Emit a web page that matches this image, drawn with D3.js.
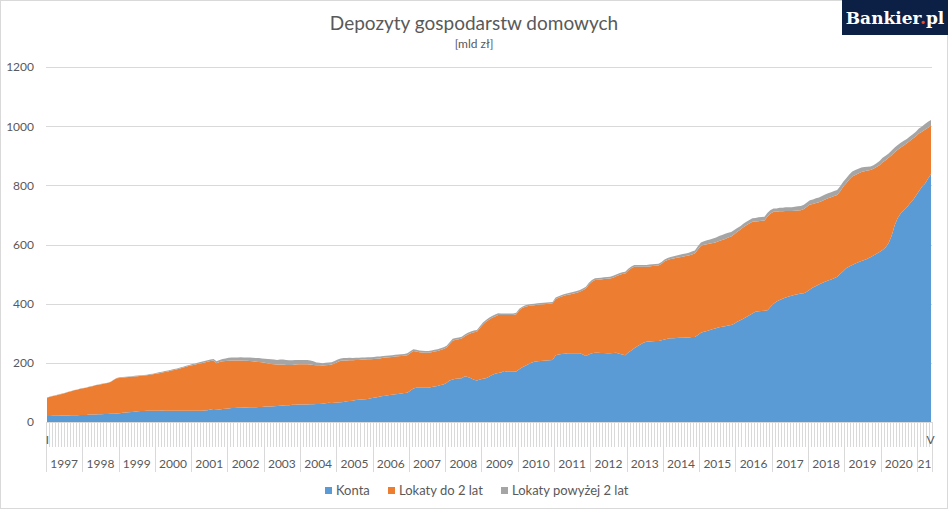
<!DOCTYPE html>
<html>
<head>
<meta charset="utf-8">
<script src="https://cdn.jsdelivr.net/npm/d3@7/dist/d3.min.js"></script>
<style>
  body { margin: 0; background: #fff; }
  text { font-family: Lato, "Open Sans", sans-serif; fill: #595959; }
</style>
</head>
<body>
<div id="chart"></div>
<script>
// years on the category axis, month labels shown only at both ends
var years = [1997,1998,1999,2000,2001,2002,2003,2004,2005,2006,2007,2008,
             2009,2010,2011,2012,2013,2014,2015,2016,2017,2018,2019,2020,2021];
var yearLabels = ["1997","1998","1999","2000","2001","2002","2003","2004","2005","2006","2007","2008",
                  "2009","2010","2011","2012","2013","2014","2015","2016","2017","2018","2019","2020","21"];
var romanMonths = ["I","II","III","IV","V","VI","VII","VIII","IX","X","XI","XII"];
var lastYearMonths = 5;
var yTicks = [0,200,400,600,800,1000,1200];

var seriesNames = ["Konta", "Lokaty do 2 lat", "Lokaty powyżej 2 lat"];
var colors = ["#5b9bd5", "#ed7d31", "#a5a5a5"];

// mld zł, monthly, one row per year
var konta = [
  20,20,21,21,21,22,22,22,23,23,23,24,
  24,24,25,25,25,26,26,27,27,28,28,29,
  30,31,32,33,34,35,36,37,37,38,38,38,
  38,38,39,38,38,38,38,38,38,38,38,38,
  38,38,38,38,39,40,42,44,43,42,44,45,
  46,47,47,48,48,49,49,50,50,50,51,51,
  52,52,52,53,54,55,56,57,57,58,58,59,
  59,59,59,60,60,61,61,62,63,65,64,65,
  66,67,68,70,71,72,74,75,76,77,78,80,
  82,84,86,88,89,91,92,94,95,96,98,99,
  106,113,116,116,116,116,116,118,120,122,125,127,
  133,140,144,146,147,148,155,152,148,143,140,144,
  146,148,153,159,163,166,167,172,170,170,170,171,
  178,185,190,195,200,204,205,206,207,208,209,210,
  226,228,230,231,232,232,232,232,232,228,223,228,
  232,234,234,233,233,232,232,233,234,231,228,226,
  235,242,249,256,262,268,271,272,273,274,274,276,
  279,281,283,283,284,285,285,286,286,287,287,294,
  302,305,308,311,314,317,320,322,324,326,328,332,
  339,344,349,355,361,367,373,374,375,376,378,390,
  400,407,412,417,421,424,427,430,432,434,435,440,
  448,455,460,465,470,474,478,482,486,491,500,510,
  520,526,531,536,540,544,548,552,557,563,569,575,
  581,590,605,630,665,690,705,715,725,739,750,765,
  780,795,805,822,838
];

var lokatyDo2 = [
  62,65,67,69,72,73,76,79,81,84,86,88,
  90,92,94,96,99,100,102,103,105,107,114,119,
  119,119,119,119,119,119,119,119,120,120,122,123,
  125,127,128,131,133,136,138,140,143,146,149,152,
  154,156,159,161,162,164,164,164,156,161,161,161,
  161,161,161,160,160,158,158,156,155,154,152,151,
  148,146,144,142,140,139,138,136,136,135,136,136,
  136,136,136,134,133,131,131,129,129,128,130,133,
  137,140,140,138,138,137,136,135,135,134,134,132,
  131,130,129,129,129,128,128,127,127,127,126,127,
  127,127,122,120,119,118,118,118,118,118,118,120,
  119,124,131,132,133,134,135,144,152,160,165,174,
  184,191,193,193,194,196,195,190,192,192,192,193,
  200,200,200,197,194,191,191,191,191,191,191,191,
  190,192,194,197,198,200,202,205,208,217,228,237,
  242,246,247,249,250,252,253,255,259,266,272,276,
  277,278,276,269,263,257,254,254,254,254,255,259,
  264,267,268,270,271,272,274,275,277,279,283,289,
  294,294,293,292,291,291,292,293,295,298,299,303,
  304,306,309,310,310,310,305,305,305,305,317,315,
  311,304,300,295,292,289,286,284,283,282,285,288,
  287,282,280,278,277,278,278,278,278,276,280,285,
  287,294,299,299,300,301,300,298,295,293,293,293,
  297,295,288,272,247,230,223,220,217,211,208,200,
  195,186,183,173,163
];

var lokatyPow2 = [
  1,1,1,1,1,1,1,1,1,1,1,1,
  1,1,1,1,1,1,1,1,1,1,1,1,
  2,2,2,2,2,2,2,2,2,2,2,2,
  3,3,3,3,3,3,3,3,3,3,3,3,
  4,4,4,5,5,5,5,5,6,7,8,9,
  10,10,10,10,11,11,11,12,12,12,13,13,
  14,15,16,16,16,17,17,17,16,16,16,15,
  15,15,15,14,12,9,8,8,8,8,8,8,
  8,8,8,8,8,7,7,7,7,7,7,7,
  7,7,6,6,6,6,6,6,6,6,6,6,
  6,6,6,6,6,6,6,6,6,6,6,6,
  6,6,6,6,6,6,6,6,6,6,6,6,
  6,6,6,6,6,6,5,5,5,5,5,5,
  5,5,5,5,5,5,5,5,5,5,5,5,
  5,5,5,5,5,6,6,6,6,6,6,6,
  6,6,6,6,6,6,6,6,6,6,6,6,
  6,6,6,6,6,6,6,6,6,6,6,6,
  6,6,7,7,8,8,9,9,9,10,10,11,
  11,12,13,14,15,16,17,17,17,16,15,14,
  13,12,12,12,12,12,12,13,13,13,12,12,
  11,11,12,12,13,13,13,14,14,14,14,14,
  15,15,16,16,17,17,17,17,17,17,17,17,
  17,17,17,17,16,15,14,13,12,12,13,14,
  15,15,15,16,16,16,16,16,15,15,15,16,
  17,18,19,20,20
];

var W = 948, H = 509;
var plot = {left: 46, right: 932, top: 67, bottom: 422};

// month categories
var months = [];
years.forEach(function(yr, i) {
  var n = (i == years.length - 1) ? lastYearMonths : 12;
  for (var m = 0; m < n; m++) months.push({key: yr + "-" + (m + 1), year: yr, yi: i, m: m});
});
var rows = months.map(function(d, i) {
  return {key: d.key, konta: konta[i], do2: lokatyDo2[i], pow2: lokatyPow2[i]};
});

var svg = d3.select("#chart").append("svg")
  .attr("width", W).attr("height", H);

svg.append("rect")
  .attr("x", 0.5).attr("y", 0.5).attr("width", W - 1).attr("height", H - 1)
  .attr("fill", "#fff").attr("stroke", "#d9d9d9");

var xBand = d3.scaleBand()
  .domain(months.map(function(d) { return d.key; }))
  .range([plot.left, plot.right]);
var xPt = d3.scalePoint()
  .domain(months.map(function(d) { return d.key; }))
  .range([plot.left + 1, plot.right - 1]);
var y = d3.scaleLinear().domain([0, 1200]).range([plot.bottom, plot.top]);

// gridlines + y labels
svg.append("g").selectAll("line").data(yTicks).enter().append("line")
  .attr("x1", plot.left).attr("x2", plot.right)
  .attr("y1", function(d) { return Math.round(y(d)) + 0.5; })
  .attr("y2", function(d) { return Math.round(y(d)) + 0.5; })
  .attr("stroke", "#d9d9d9");

var yAxis = svg.append("g")
  .attr("transform", "translate(" + (plot.left - 12) + ",0)")
  .call(d3.axisLeft(y).tickValues(yTicks).tickFormat(d3.format("d")).tickSize(0).tickPadding(0));
yAxis.select(".domain").remove();
yAxis.selectAll("text").style("font-size", "12px").attr("fill", "#595959")
  .style("font-family", "Lato, sans-serif");

// stacked areas
var stack = d3.stack().keys(["konta", "do2", "pow2"]);
var layers = stack(rows);
var area = d3.area()
  .x(function(d) { return xPt(d.data.key); })
  .y0(function(d) { return y(d[0]); })
  .y1(function(d) { return y(d[1]); });

svg.append("g").selectAll("path").data(layers).enter().append("path")
  .attr("d", area)
  .attr("fill", function(d, i) { return colors[i]; });

// category axis: month ticks, year separators
var axisG = svg.append("g");
axisG.append("line")
  .attr("x1", plot.left).attr("x2", plot.right)
  .attr("y1", plot.bottom + 0.5).attr("y2", plot.bottom + 0.5)
  .attr("stroke", "#d9d9d9");

axisG.selectAll("line.mt").data(months).enter().append("line")
  .attr("class", "mt")
  .attr("x1", function(d) { return Math.round(xBand(d.key)) + 0.5; })
  .attr("x2", function(d) { return Math.round(xBand(d.key)) + 0.5; })
  .attr("y1", plot.bottom).attr("y2", function(d) { return d.m == 0 ? plot.bottom + 50 : plot.bottom + 25; })
  .attr("stroke", "#d9d9d9");

axisG.append("line")
  .attr("x1", plot.right + 0.5).attr("x2", plot.right + 0.5)
  .attr("y1", plot.bottom).attr("y2", plot.bottom + 50)
  .attr("stroke", "#d9d9d9");

// month labels at the ends
var firstM = months[0], lastM = months[months.length - 1];
[firstM, lastM].forEach(function(d) {
  axisG.append("text")
    .attr("x", xBand(d.key) + xBand.bandwidth() / 2)
    .attr("y", plot.bottom + 22)
    .attr("text-anchor", "middle")
    .style("font-size", "12px")
    .text(romanMonths[d.m]);
});

// year labels
axisG.selectAll("text.yr").data(years).enter().append("text")
  .attr("class", "yr")
  .attr("x", function(yr, i) {
    var ms = months.filter(function(d) { return d.yi == i; });
    var a = xBand(ms[0].key), b = xBand(ms[ms.length - 1].key) + xBand.bandwidth();
    return (a + b) / 2;
  })
  .attr("y", plot.bottom + 46)
  .attr("text-anchor", "middle")
  .style("font-size", "12px")
  .text(function(yr, i) { return yearLabels[i]; });

// title
svg.append("text")
  .attr("x", 474).attr("y", 30)
  .attr("text-anchor", "middle")
  .style("font-size", "19px")
  .text("Depozyty gospodarstw domowych");
svg.append("text")
  .attr("x", 474).attr("y", 48)
  .attr("text-anchor", "middle")
  .style("font-size", "12px")
  .text("[mld zł]");

// legend
var legX = [325, 388, 501];
var leg = svg.append("g");
seriesNames.forEach(function(name, i) {
  leg.append("rect")
    .attr("x", legX[i]).attr("y", 487)
    .attr("width", 7).attr("height", 7)
    .attr("fill", colors[i]);
  leg.append("text")
    .attr("x", legX[i] + 11).attr("y", 495)
    .style("font-size", "13px")
    .text(name);
});

// logo
svg.append("rect")
  .attr("x", 842).attr("y", 0).attr("width", 106).attr("height", 35)
  .attr("fill", "#0b2044");
var logo = svg.append("text")
  .attr("x", 895).attr("y", 24)
  .attr("text-anchor", "middle")
  .style("font-family", "'DejaVu Serif', serif")
  .style("font-weight", "bold")
  .style("font-size", "17px");
logo.append("tspan").style("fill", "#fff").text("Bankier");
logo.append("tspan").style("fill", "#e8501e").text(".");
logo.append("tspan").style("fill", "#fff").text("pl");
</script>
</body>
</html>
